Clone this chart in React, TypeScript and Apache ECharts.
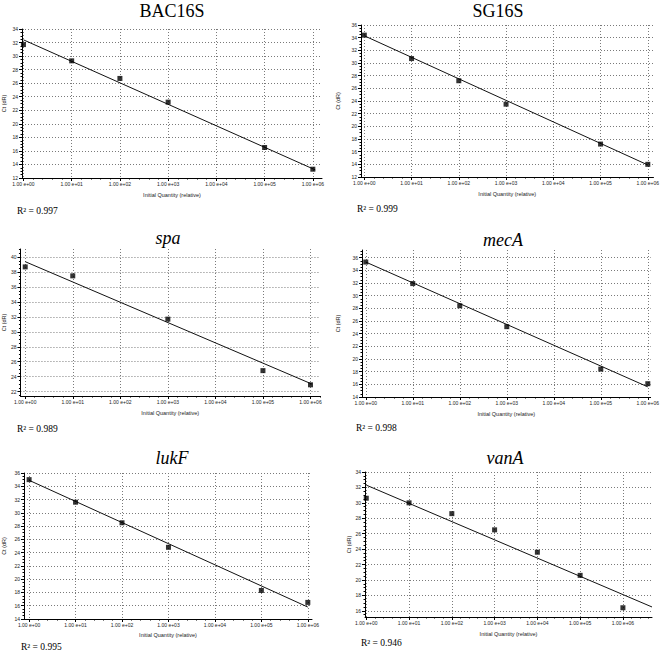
import React, { useEffect, useRef } from 'react';
import * as echarts from 'echarts';

// ---------- data ----------
const panelTitles = ['BAC16S', 'SG16S', 'spa', 'mecA', 'lukF', 'vanA'];
const titleItalic = [false, false, true, true, true, true];
const rSquared = ['0.997', '0.999', '0.989', '0.998', '0.995', '0.946'];

const xTickExponents = [0, 1, 2, 3, 4, 5, 6];
const xTickLabels = ['1.00 e+00', '1.00 e+01', '1.00 e+02', '1.00 e+03', '1.00 e+04', '1.00 e+05', '1.00 e+06'];

// log10(initial quantity) and Ct values
const bacX = [0, 1, 2, 3, 5, 6];
const bacCt = [31.7, 29.3, 26.7, 23.2, 16.5, 13.3];
const bacFitX = [0, 6.05];
const bacFitCt = [32.4, 13.2];

const sgX = [0, 1, 2, 3, 5, 6];
const sgCt = [34.4, 30.7, 27.2, 23.5, 17.2, 14.0];
const sgFitX = [0, 6];
const sgFitCt = [34.3, 13.9];

const spaX = [0, 1, 3, 5, 6];
const spaCt = [38.7, 37.5, 31.7, 24.8, 22.9];
const spaFitX = [0, 6.03];
const spaFitCt = [39.4, 23.0];

const mecX = [0, 1, 2, 3, 5, 6];
const mecCt = [35.3, 31.9, 28.4, 25.1, 18.4, 16.1];
const mecFitX = [0, 6];
const mecFitCt = [35.3, 15.6];

const lukX = [0, 1, 2, 3, 5, 6];
const lukCt = [35.0, 31.6, 28.5, 24.8, 18.3, 16.5];
const lukFitX = [0, 6];
const lukFitCt = [34.9, 15.8];

const vanX = [0, 1, 2, 3, 4, 5, 6];
const vanCt = [30.6, 30.0, 28.6, 26.5, 23.6, 20.6, 16.4];
const vanFitX = [0, 6.68];
const vanFitCt = [32.3, 16.5];

const bacYTicks = [12, 14, 16, 18, 20, 22, 24, 26, 28, 30, 32, 34];
const sgYTicks = [12, 14, 16, 18, 20, 22, 24, 26, 28, 30, 32, 34, 36];
const spaYTicks = [22, 24, 26, 28, 30, 32, 34, 36, 38, 40];
const mecYTicks = [14, 16, 18, 20, 22, 24, 26, 28, 30, 32, 34, 36];
const lukYTicks = [14, 16, 18, 20, 22, 24, 26, 28, 30, 32, 34, 36];
const vanYTicks = [16, 18, 20, 22, 24, 26, 28, 30, 32, 34];

const seriesX = [bacX, sgX, spaX, mecX, lukX, vanX];
const seriesCt = [bacCt, sgCt, spaCt, mecCt, lukCt, vanCt];
const fitX = [bacFitX, sgFitX, spaFitX, mecFitX, lukFitX, vanFitX];
const fitCt = [bacFitCt, sgFitCt, spaFitCt, mecFitCt, lukFitCt, vanFitCt];
const yTicks = [bacYTicks, sgYTicks, spaYTicks, mecYTicks, lukYTicks, vanYTicks];

// ---------- layout (pixels / axis extents) ----------
const layouts = [
  { left: 21, top: 29, right: 322, bottom: 178, xMin: -0.03, xMax: 6.19, yMin: 12, yMax: 34, yNameGap: 15, xNameGap: 14, tx: 172, ty: 11, rx: 17, ry: 211 },
  { left: 361, top: 25, right: 658, bottom: 177, xMin: -0.07, xMax: 6.12, yMin: 12, yMax: 36, yNameGap: 20, xNameGap: 14, tx: 498, ty: 11, rx: 357, ry: 209 },
  { left: 17, top: 249, right: 320, bottom: 396, xMin: -0.1, xMax: 6.2, yMin: 21.4, yMax: 41.1, yNameGap: 11, xNameGap: 14, tx: 168, ty: 238, rx: 17, ry: 429 },
  { left: 362, top: 250, right: 653, bottom: 397, xMin: -0.08, xMax: 6.06, yMin: 14, yMax: 37.2, yNameGap: 21, xNameGap: 14, tx: 503, ty: 240, rx: 356, ry: 428 },
  { left: 24, top: 473, right: 312, bottom: 619, xMin: -0.11, xMax: 6.09, yMin: 14, yMax: 36, yNameGap: 17, xNameGap: 13, tx: 172, ty: 458, rx: 21, ry: 647 },
  { left: 365, top: 472, right: 652, bottom: 617, xMin: -0.03, xMax: 6.68, yMin: 15.2, yMax: 34, yNameGap: 13, xNameGap: 14, tx: 505, ty: 458, rx: 361, ry: 643 },
];

function steps(min: number, max: number, step: number): number[] {
  const out: number[] = [];
  let v = Math.ceil(min / step - 1e-9) * step;
  while (v <= max + 1e-9) {
    out.push(Math.round(v * 1000) / 1000);
    v += step;
  }
  return out;
}

const tickFont = 'Liberation Sans';
const serifFont = 'Liberation Serif';

function buildOption() {
  const grid: any[] = [];
  const xAxis: any[] = [];
  const yAxis: any[] = [];
  const series: any[] = [];
  const graphic: any[] = [];

  layouts.forEach((L, i) => {
    grid.push({ left: L.left, top: L.top, width: L.right - L.left, height: L.bottom - L.top });

    xAxis.push({
      type: 'value', gridIndex: i, position: 'bottom', min: L.xMin, max: L.xMax,
      axisLine: { show: true, onZero: false, lineStyle: { color: '#000', width: 1 } },
      axisTick: { show: true, length: 3, customValues: xTickExponents, lineStyle: { color: '#000' } },
      axisLabel: {
        customValues: xTickExponents,
        formatter: (v: number) => {
          const k = xTickExponents.indexOf(Math.round(v));
          return k >= 0 ? xTickLabels[k] : '';
        },
        fontSize: 5, margin: 3, color: '#222', fontFamily: tickFont,
      },
      splitLine: { show: true, lineStyle: { color: '#7a7a7a', type: [1, 2], width: 1 } },
      name: 'Initial Quantity (relative)', nameLocation: 'middle', nameGap: L.xNameGap,
      nameTextStyle: { fontSize: 5.5, color: '#222', fontFamily: tickFont },
    });
    xAxis.push({
      type: 'value', gridIndex: i, position: 'bottom', min: L.xMin, max: L.xMax,
      axisLine: { show: false, onZero: false },
      axisTick: { show: true, length: 1.5, customValues: steps(L.xMin, L.xMax, 0.2), lineStyle: { color: '#000' } },
      axisLabel: { show: false },
      splitLine: { show: false },
    });

    yAxis.push({
      type: 'value', gridIndex: i, position: 'left', min: L.yMin, max: L.yMax,
      axisLine: { show: true, onZero: false, lineStyle: { color: '#000', width: 1 } },
      axisTick: { show: true, length: 3, customValues: yTicks[i], lineStyle: { color: '#000' } },
      axisLabel: { customValues: yTicks[i], fontSize: 5, margin: 4, color: '#222', fontFamily: tickFont },
      splitLine: { show: true, lineStyle: { color: '#7a7a7a', type: [1, 2], width: 1 } },
      name: 'Ct (dR)', nameLocation: 'middle', nameGap: L.yNameGap, nameRotate: 90,
      nameTextStyle: { fontSize: 5.5, color: '#222', fontFamily: tickFont },
    });
    yAxis.push({
      type: 'value', gridIndex: i, position: 'left', min: L.yMin, max: L.yMax,
      axisLine: { show: false, onZero: false },
      axisTick: { show: true, length: 1.5, customValues: steps(L.yMin, L.yMax, 0.5), lineStyle: { color: '#000' } },
      axisLabel: { show: false },
      splitLine: { show: false },
    });

    series.push({
      type: 'line', xAxisIndex: 2 * i, yAxisIndex: 2 * i,
      data: fitX[i].map((x, k) => [x, fitCt[i][k]]),
      symbol: 'none', lineStyle: { color: '#111', width: 1 }, z: 3,
    });
    series.push({
      type: 'scatter', xAxisIndex: 2 * i, yAxisIndex: 2 * i,
      data: seriesX[i].map((x, k) => [x, seriesCt[i][k]]),
      symbol: 'rect', symbolSize: 5, itemStyle: { color: '#000' }, z: 4,
    });

    const titleStyle: any = { text: panelTitles[i], fontFamily: serifFont, fontSize: 18, fill: '#000' };
    if (titleItalic[i]) titleStyle.fontStyle = 'italic';
    graphic.push({ type: 'text', x: L.tx - 0, y: L.ty - 9, style: titleStyle, textConfig: {} });
    graphic.push({
      type: 'text', x: L.rx, y: L.ry - 5,
      style: { text: `R\u00B2 = ${rSquared[i]}`, fontFamily: serifFont, fontSize: 9.5, fill: '#000' },
    });
  });

  return { animation: false, backgroundColor: '#fff', grid, xAxis, yAxis, series, graphic };
}

export default function App() {
  const ref = useRef<HTMLDivElement>(null);
  useEffect(() => {
    if (!ref.current) return;
    const chart = echarts.init(ref.current, undefined, { renderer: 'svg' });
    const option: any = buildOption();
    chart.setOption(option);
    // center titles horizontally using their measured widths
    const centered = option.graphic.map((g: any, idx: number) => {
      if (idx % 2 !== 0) return g;
      const w = echarts.format.getTextRect
        ? (echarts.format as any).getTextRect(g.style.text, `${g.style.fontStyle || ''} 18px ${serifFont}`).width
        : 0;
      return { ...g, x: g.x - w / 2 };
    });
    chart.setOption({ graphic: centered } as any, { replaceMerge: ['graphic'] } as any);
    return () => chart.dispose();
  }, []);
  return (
    <div
      ref={ref}
      style={{ position: 'fixed', left: 0, top: 0, width: 662, height: 656, background: '#fff' }}
    />
  );
}
